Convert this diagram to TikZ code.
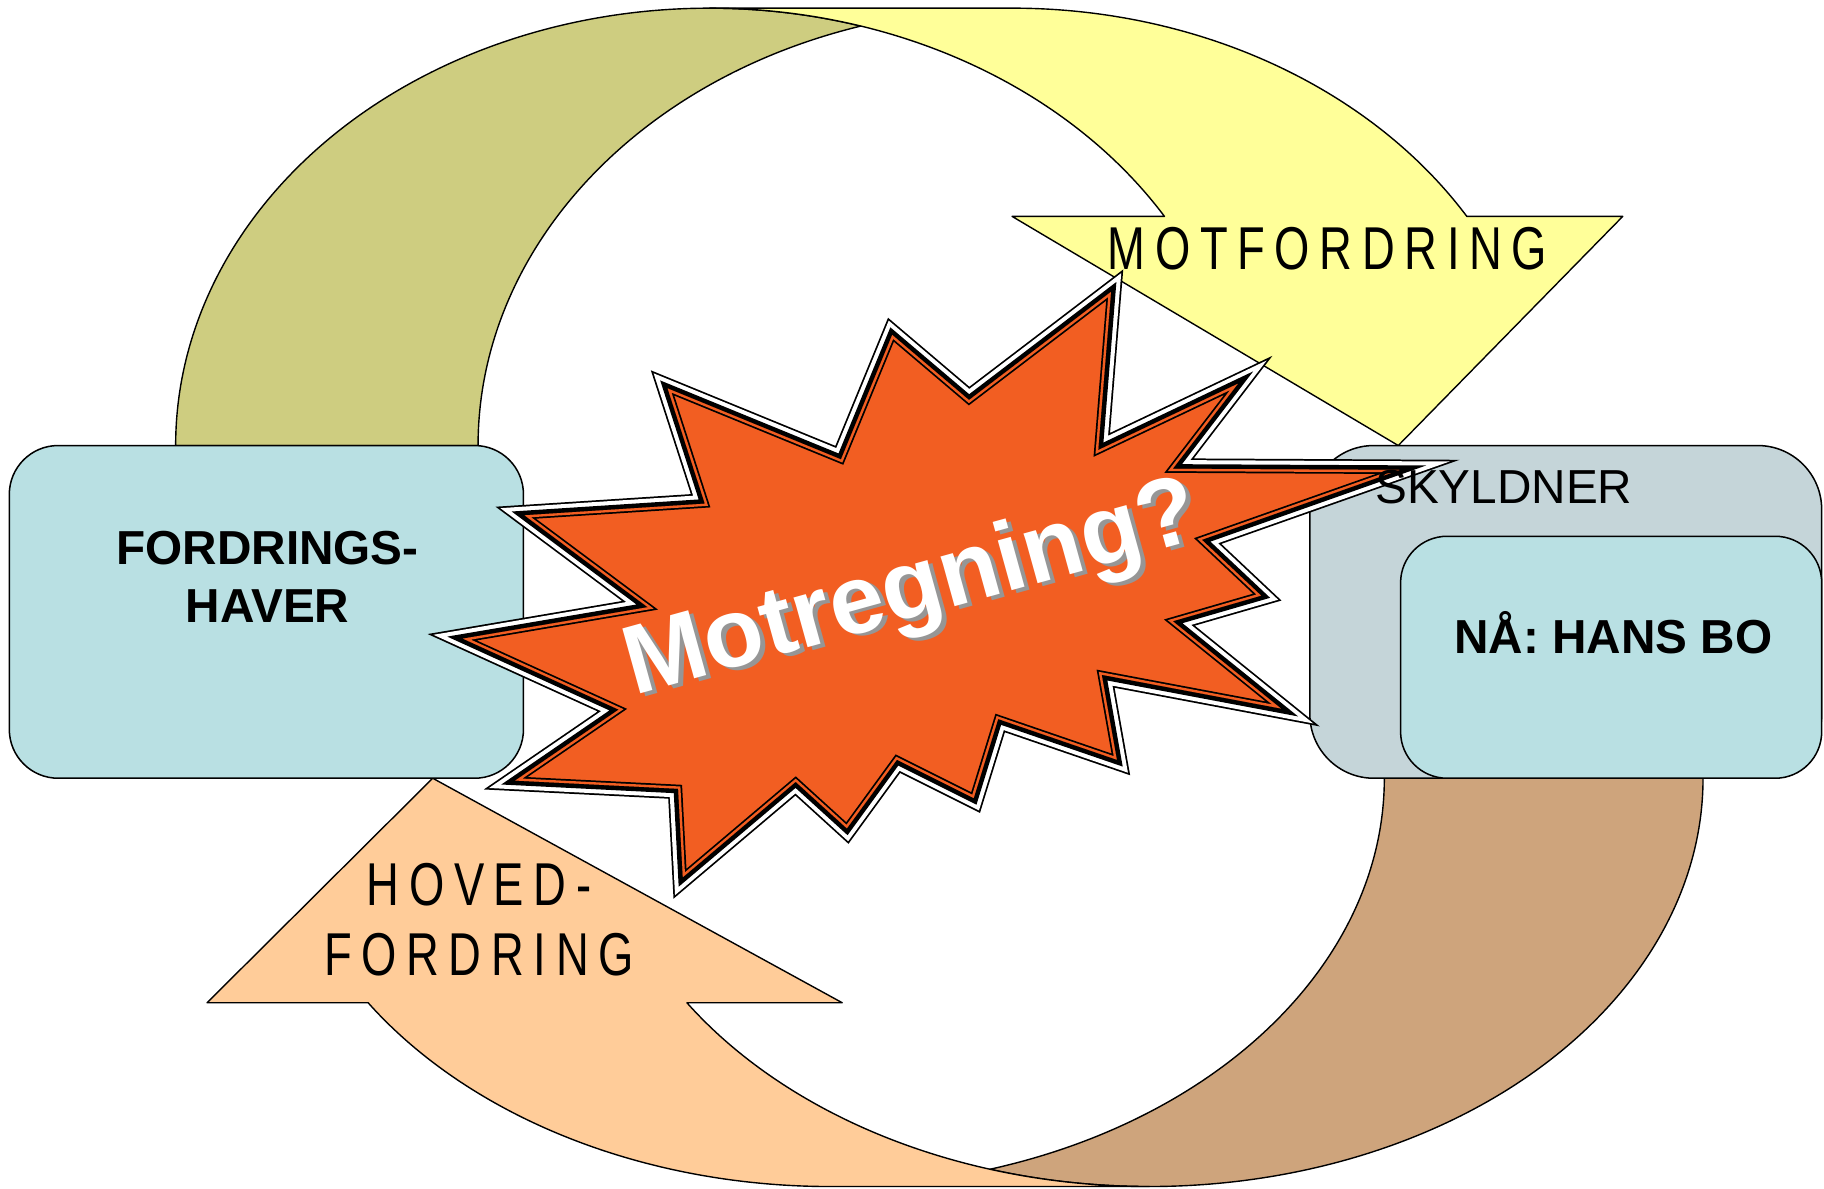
\documentclass[tikz,border=0pt]{standalone}
\usepackage{fontspec}
\setmainfont{Liberation Sans}
\newfontfamily\narrowf[FakeStretch=0.75,LetterSpace=16]{Liberation Sans}
\definecolor{boxblue}{RGB}{185,224,227}
\definecolor{boxgrey}{RGB}{197,213,217}
\definecolor{olivec}{RGB}{206,205,128}
\definecolor{yellowc}{RGB}{255,255,153}
\definecolor{tanc}{RGB}{206,164,124}
\definecolor{peachc}{RGB}{255,204,153}
\definecolor{boom}{RGB}{242,94,34}
\definecolor{shadowc}{RGB}{150,150,150}
\def\starpath{(955,251) -- (944,387) -- (1064,330) -- (1008,403) -- (1203,404) -- (1033,464) -- (1084,512) -- (1008,534) -- (1101,609) -- (947,580) -- (960,653) -- (858,618) -- (837,686) -- (771,653) -- (728,712) -- (684,672) -- (587,754) -- (583,678) -- (443,671) -- (532,610) -- (398,549) -- (557,522) -- (451,443) -- (606,433) -- (574,334) -- (723,395) -- (767,288) -- (833,344) -- cycle}
\tikzset{
  band/.style={draw=black, line width=1.2pt, line join=round},
  boxst/.style={draw=black, line width=1.3pt, inner sep=0pt},
  lbl/.style={inner sep=0pt, text=black},
  boldlbl/.style={lbl, font=\fontsize{41}{48}\selectfont\bfseries},
  thinlbl/.style={lbl, font=\fontsize{41}{48}\selectfont},
  narrowlbl/.style={lbl, font=\fontsize{52}{60}\selectfont\narrowf},
  bigword/.style={inner sep=0pt, font=\fontsize{84}{90}\selectfont\bfseries, rotate=15.5, anchor=base west},
  ring/.style={miter limit=12, line join=miter}
}
\begin{document}
\begin{tikzpicture}[x=1pt,y=-1pt]
\useasboundingbox (0,0) rectangle (1568,1022);
\fill[white] (0,0) rectangle (1568,1022);
% olive back band (top left)
\path[band, fill=olivec] (151,383) arc[start angle=180, end angle=73.55, x radius=459pt, y radius=376pt]
   -- (740,22.4) arc[start angle=106.45, end angle=180, x radius=459pt, y radius=376pt] -- cycle;
% yellow arrow (MOTFORDRING)
\path[band, fill=yellowc] (610,7) -- (870,7) arc[start angle=90, end angle=31.6, x radius=459pt, y radius=376pt]
   -- (1395,186) -- (1202,383) -- (870,186) -- (1001,186)
   arc[start angle=31.6, end angle=90, x radius=459pt, y radius=376pt] -- cycle;
% tan back band (bottom right)
\path[band, fill=tanc] (1464,669) arc[start angle=0, end angle=-106.7, x radius=476pt, y radius=351pt]
   -- (850.8,1005.2) arc[start angle=-73.3, end angle=0, x radius=476pt, y radius=351pt] -- cycle;
% peach arrow (HOVED-FORDRING)
\path[band, fill=peachc] (714,1020) arc[start angle=-90, end angle=-146.64, x radius=476pt, y radius=351pt]
   -- (178,862) -- (372,669) -- (724,862) -- (590.5,862)
   arc[start angle=-146.64, end angle=-90, x radius=476pt, y radius=351pt] -- cycle;
% boxes
\node[boxst, fill=boxblue, minimum width=442pt, minimum height=286pt, rounded corners=42pt] (fh) at (229,526) {};
\node[boxst, fill=boxgrey, minimum width=440pt, minimum height=286pt, rounded corners=55pt] (sk) at (1346,526) {};
\node[boxst, fill=boxblue, minimum width=362pt, minimum height=208pt, rounded corners=40pt] (hb) at (1385,565) {};
% explosion
\draw[ring, black, line width=18pt] \starpath;
\draw[ring, white, line width=15pt] \starpath;
\draw[ring, black, line width=8pt] \starpath;
\fill[boom] \starpath;
\begin{scope}
  \clip \starpath;
  \draw[ring, black, line width=7pt] \starpath;
  \draw[ring, boom, line width=4pt] \starpath;
\end{scope}
% texts
\node[boldlbl, anchor=base] (fh1) at (230,485) {FORDRINGS-};
\node[boldlbl, anchor=base] (fh2) at (230,535) {HAVER};
\node[thinlbl, anchor=base west] (skt) at (1182,433) {SKYLDNER};
\node[boldlbl, anchor=base] (hbt) at (1387,562) {NÅ: HANS BO};
\node[narrowlbl, anchor=base west] (mot) at (952,232) {MOTFORDRING};
\node[narrowlbl, anchor=base west] (hov1) at (315,778.5) {HOVED-};
\node[narrowlbl, anchor=base west] (hov2) at (278.5,839) {FORDRING};
\node[bigword] (mr) at (545,598) {\rlap{\kern3.5pt\raisebox{-3.5pt}{\textcolor{shadowc}{Motregning?}}}\textcolor{white}{Motregning?}};
\end{tikzpicture}
\end{document}
